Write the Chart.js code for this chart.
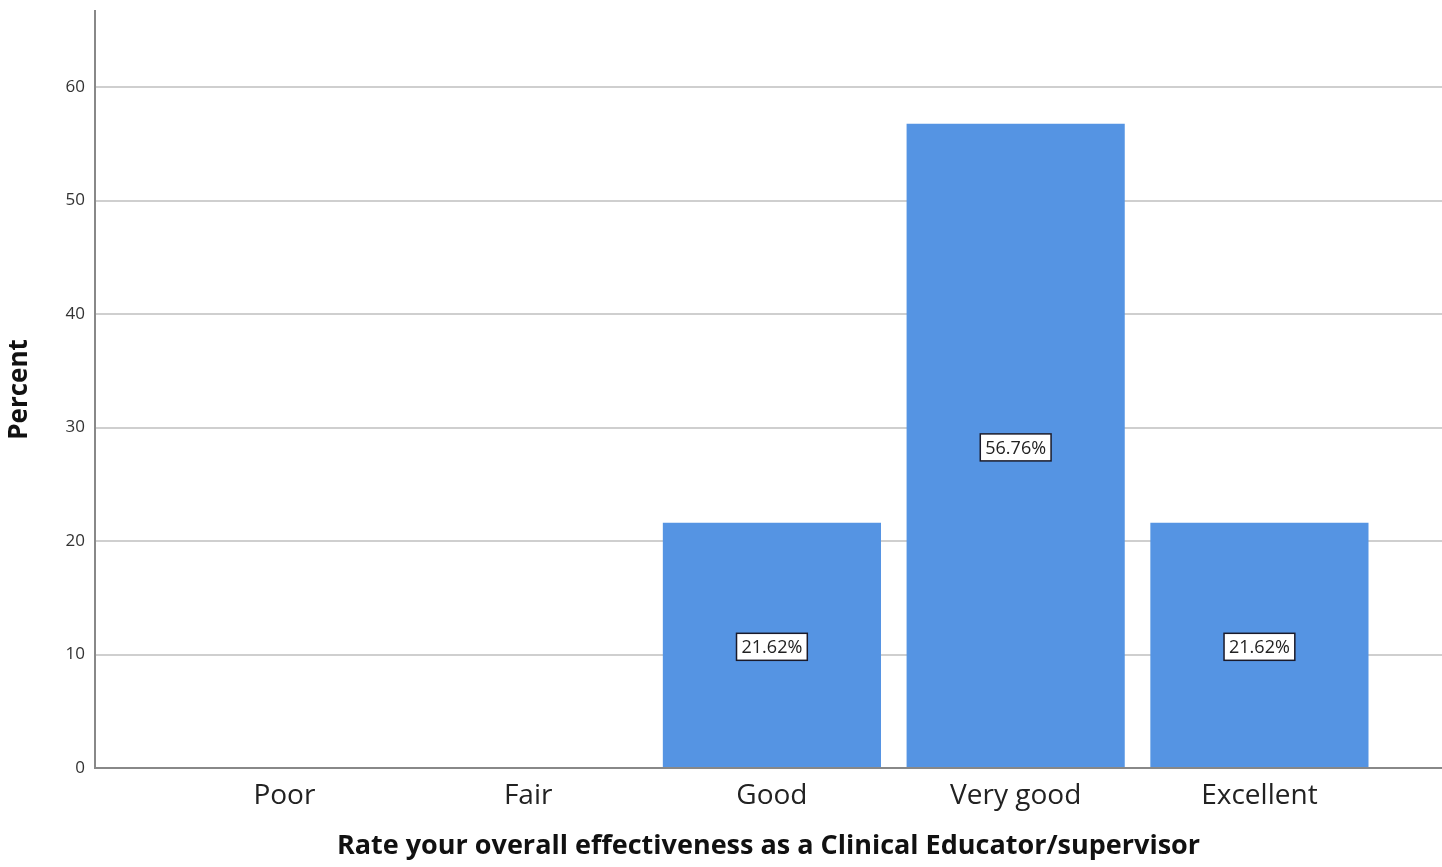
<!DOCTYPE html>
<html>
<head>
<meta charset="utf-8">
<script src="https://cdn.jsdelivr.net/npm/chart.js@4"></script>
<style>
  html, body { margin: 0; padding: 0; background: #fff; }
  #wrap { width: 1442px; height: 867px; }
</style>
</head>
<body>
<div id="wrap"><canvas id="myChart"></canvas></div>
<script>
const categories = ['Poor', 'Fair', 'Good', 'Very good', 'Excellent'];
const percents = [0, 0, 21.62, 56.76, 21.62];
const yTicks = [0, 10, 20, 30, 40, 50, 60];

// box labels drawn in the middle of each bar
const boxLabels = {
    id: 'boxLabels',
    afterDatasetsDraw(chart) {
        const ctx = chart.ctx;
        const meta = chart.getDatasetMeta(0);
        ctx.save();
        ctx.font = '18px "Open Sans", sans-serif';
        ctx.textAlign = 'center';
        ctx.textBaseline = 'middle';
        meta.data.forEach((bar, i) => {
            if (!percents[i]) return;
            const text = percents[i].toFixed(2) + '%';
            const cx = bar.x;
            const cy = (bar.y + bar.base) / 2 + 2;
            const w = ctx.measureText(text).width + 10;
            const h = 27;
            ctx.fillStyle = '#ffffff';
            ctx.fillRect(cx - w / 2, cy - h / 2, w, h);
            ctx.strokeStyle = '#1a1a2a';
            ctx.lineWidth = 1.5;
            ctx.strokeRect(cx - w / 2, cy - h / 2, w, h);
            ctx.fillStyle = '#222';
            ctx.fillText(text, cx, cy + 1);
        });
        ctx.restore();
    }
};

let ctx = document.getElementById('myChart').getContext('2d');
let myChart = new Chart(ctx, {
    type: 'bar',
    data: {
        datasets: [{
            data: percents.map((v, i) => ({ x: i, y: v })),
            backgroundColor: '#5594E3',
            borderWidth: 0,
            barPercentage: 0.895,
            categoryPercentage: 1
        }]
    },
    plugins: [boxLabels],
    options: {
        responsive: true,
        maintainAspectRatio: false,
        animation: false,
        layout: { padding: { top: 11, right: 0, left: 0, bottom: 0 } },
        plugins: { legend: { display: false }, tooltip: { enabled: false } },
        scales: {
            x: {
                type: 'linear',
                offset: false,
                min: -0.777,
                max: 4.749,
                afterBuildTicks: scale => { scale.ticks = categories.map((c, i) => ({ value: i })); },
                afterFit: scale => { scale.height = 99; },
                grid: { display: false, drawTicks: false },
                border: { color: '#888', width: 2 },
                ticks: {
                    callback: v => categories[v],
                    color: '#222',
                    padding: 11,
                    maxRotation: 0,
                    font: { family: '"Open Sans", sans-serif', size: 28 }
                },
                title: {
                    display: true,
                    text: 'Rate your overall effectiveness as a Clinical Educator/supervisor',
                    color: '#111',
                    padding: { top: 14 },
                    font: { family: '"Open Sans", sans-serif', size: 27, weight: 'bold' }
                }
            },
            y: {
                min: 0,
                max: 66.7,
                afterBuildTicks: scale => { scale.ticks = yTicks.map(v => ({ value: v })); },
                afterFit: scale => {
                    scale.width = 95;
                    scale.paddingTop = 0;
                    scale.paddingBottom = 0;
                },
                grid: { color: '#cfcfcf', lineWidth: 2, drawTicks: false },
                border: { color: '#888', width: 2 },
                ticks: {
                    color: '#333',
                    padding: 10,
                    font: { family: '"Open Sans", sans-serif', size: 17 }
                },
                title: {
                    display: true,
                    text: 'Percent',
                    color: '#111',
                    padding: { bottom: 2 },
                    font: { family: '"Open Sans", sans-serif', size: 26, weight: 'bold' }
                }
            }
        }
    }
});
</script>
</body>
</html>
